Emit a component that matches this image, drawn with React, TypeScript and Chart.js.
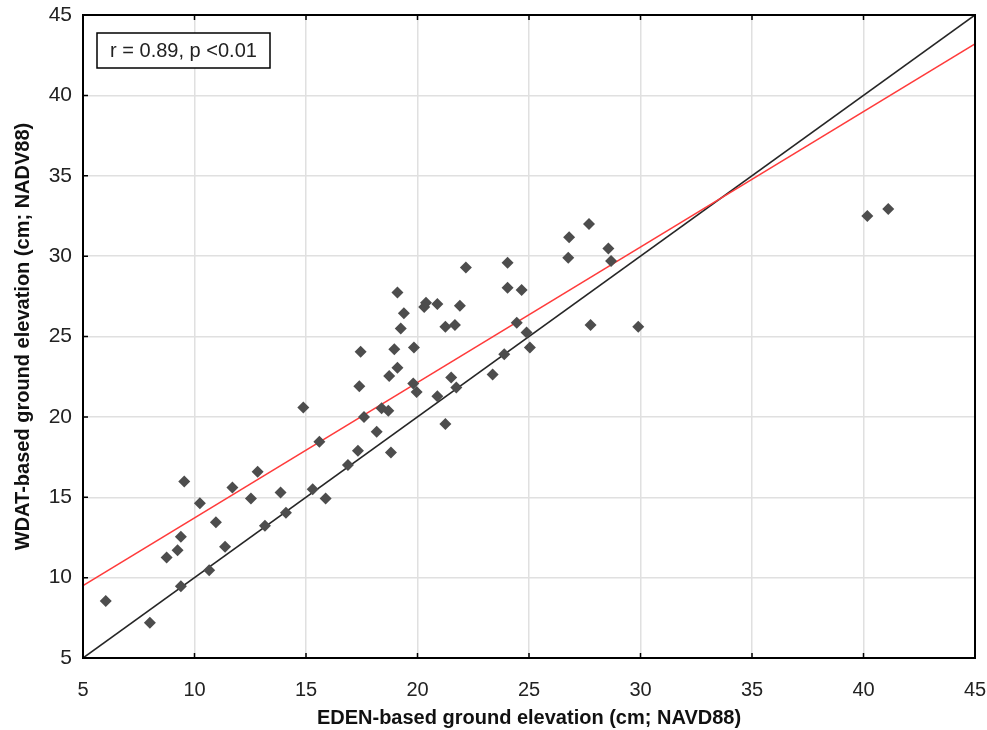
import React, { useEffect, useRef } from "react";
import { Chart, registerables } from "chart.js";

Chart.register(...registerables);

// EDEN-based ground elevation (x) and WDAT-based ground elevation (y), cm
const edenElevation = [
  6.02, 8.0, 8.75, 9.24, 9.39, 9.39, 9.54, 10.24, 10.66, 10.96,
  11.37, 11.7, 12.53, 12.83, 13.16, 13.86, 14.1, 14.88, 15.3, 15.6,
  15.88, 16.88, 17.33, 17.39, 17.45, 17.6, 18.17, 18.39, 18.69, 18.73,
  18.81, 18.96, 19.1, 19.1, 19.25, 19.39, 19.84, 19.81, 19.96, 20.3,
  20.38, 20.89, 20.89, 21.25, 21.25, 21.51, 21.68, 21.74, 21.9, 22.17,
  23.37, 23.89, 24.04, 24.04, 24.45, 24.67, 24.89, 25.04, 26.76, 26.8,
  27.69, 27.76, 28.56, 28.68, 29.9, 40.17, 41.11,
];
const wdatElevation = [
  8.55, 7.19, 11.25, 11.7, 12.54, 9.47, 15.98, 14.62, 10.46, 13.45,
  11.92, 15.61, 14.93, 16.58, 13.22, 15.3, 14.03, 20.59, 15.5, 18.45,
  14.93, 17.0, 17.89, 21.91, 24.05, 20.0, 19.07, 20.53, 20.38, 22.54,
  17.79, 24.21, 27.73, 23.05, 25.5, 26.44, 24.32, 22.08, 21.54, 26.83,
  27.1, 27.02, 21.29, 19.55, 25.6, 22.45, 25.71, 21.83, 26.91, 29.3,
  22.64, 23.9, 29.59, 28.03, 25.85, 27.89, 25.25, 24.32, 29.9, 31.17,
  32.0, 25.71, 30.48, 29.69, 25.6, 32.49, 32.93,
];

// 1:1 line endpoints
const oneToOneX = [5, 45];
const oneToOneY = [5, 45];
// fitted regression line endpoints
const fitX = [5, 45];
const fitY = [9.5, 43.2];

const axisMin = 5;
const axisMax = 45;
const tickStep = 5;

const xTitle = "EDEN-based ground elevation (cm; NAVD88)";
const yTitle = "WDAT-based ground elevation (cm; NADV88)";
const statsLabel = "r = 0.89, p <0.01";

const FONT = "'Liberation Sans', Arial, sans-serif";

const framePlugin = {
  id: "framePlugin",
  afterDatasetsDraw(chart: any) {
    const { ctx, chartArea: a, scales } = chart;
    ctx.save();
    ctx.strokeStyle = "#000";
    ctx.lineWidth = 1.5;
    ctx.beginPath();
    const tl = 5;
    scales.x.ticks.forEach((t: any) => {
      const px = scales.x.getPixelForValue(t.value);
      ctx.moveTo(px, a.bottom);
      ctx.lineTo(px, a.bottom - tl);
      ctx.moveTo(px, a.top);
      ctx.lineTo(px, a.top + tl);
    });
    scales.y.ticks.forEach((t: any) => {
      const py = scales.y.getPixelForValue(t.value);
      ctx.moveTo(a.left, py);
      ctx.lineTo(a.left + tl, py);
    });
    ctx.stroke();
    ctx.lineWidth = 2;
    ctx.strokeRect(a.left, a.top, a.right - a.left, a.bottom - a.top);

    // stats box
    const bx = a.left + 14;
    const by = a.top + 18;
    const bw = 173;
    const bh = 35;
    ctx.fillStyle = "#fff";
    ctx.fillRect(bx, by, bw, bh);
    ctx.lineWidth = 1.5;
    ctx.strokeRect(bx, by, bw, bh);
    ctx.fillStyle = "#222";
    ctx.font = `20px ${FONT}`;
    ctx.textAlign = "center";
    ctx.textBaseline = "middle";
    ctx.fillText(statsLabel, bx + bw / 2, by + bh / 2 + 1);
    ctx.restore();
  },
};

const zeroPad = (s: any) => {
  s.paddingLeft = 0;
  s.paddingRight = 0;
  s.paddingTop = 0;
  s.paddingBottom = 0;
};

export default function App() {
  const canvasRef = useRef<HTMLCanvasElement | null>(null);

  useEffect(() => {
    const canvas = canvasRef.current;
    if (!canvas) return;
    const points = edenElevation.map((x, i) => ({ x, y: wdatElevation[i] }));
    const oneToOne = oneToOneX.map((x, i) => ({ x, y: oneToOneY[i] }));
    const fit = fitX.map((x, i) => ({ x, y: fitY[i] }));

    const chart = new Chart(canvas, {
      type: "scatter",
      data: {
        datasets: [
          {
            label: "sites",
            data: points,
            pointStyle: "rectRot",
            pointRadius: 6,
            pointBackgroundColor: "#4d4d4d",
            pointBorderColor: "#4d4d4d",
            pointBorderWidth: 0,
            showLine: false,
            order: 0,
          },
          {
            label: "1:1",
            type: "line",
            data: oneToOne,
            borderColor: "#262626",
            borderWidth: 1.6,
            pointRadius: 0,
            fill: false,
            order: 2,
          },
          {
            label: "fit",
            type: "line",
            data: fit,
            borderColor: "#ff3b3b",
            borderWidth: 1.6,
            pointRadius: 0,
            fill: false,
            order: 1,
          },
        ],
      },
      options: {
        animation: false,
        responsive: false,
        devicePixelRatio: 1,
        layout: { padding: { left: 0, top: 15, right: 12, bottom: 0 } },
        plugins: {
          legend: { display: false },
          tooltip: { enabled: false },
        },
        scales: {
          x: {
            type: "linear",
            min: axisMin,
            max: axisMax,
            ticks: {
              stepSize: tickStep,
              color: "#222",
              font: { family: FONT, size: 20 },
              padding: 20,
            },
            grid: { color: "#e0e0e0", lineWidth: 1.5, drawTicks: false },
            border: { display: false },
            title: {
              display: true,
              text: xTitle,
              color: "#111",
              font: { family: FONT, size: 20, weight: "bold" },
              padding: { top: 0, bottom: 0 },
            },
            afterFit: (s: any) => {
              s.height = 72;
              zeroPad(s);
            },
          },
          y: {
            type: "linear",
            min: axisMin,
            max: axisMax,
            ticks: {
              stepSize: tickStep,
              color: "#222",
              font: { family: FONT, size: 21 },
              padding: 11,
            },
            grid: { color: "#e0e0e0", lineWidth: 1.5, drawTicks: false },
            border: { display: false },
            title: {
              display: true,
              text: yTitle,
              color: "#111",
              font: { family: FONT, size: 20, weight: "bold" },
              padding: { top: 11, bottom: 0 },
            },
            afterFit: (s: any) => {
              s.width = 83;
              zeroPad(s);
            },
          },
        },
      },
      plugins: [framePlugin],
    });
    return () => chart.destroy();
  }, []);

  return (
    <div style={{ position: "absolute", left: 0, top: 0, width: 987, height: 730, background: "#fff" }}>
      <canvas ref={canvasRef} width={987} height={730} />
    </div>
  );
}
